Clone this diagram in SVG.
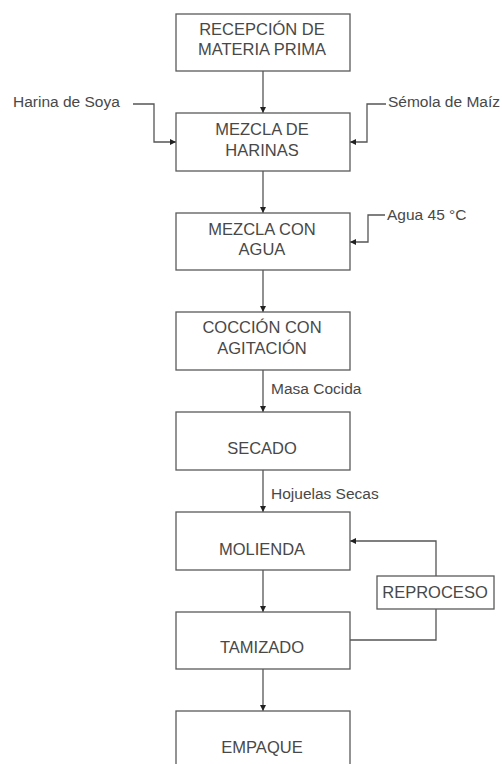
<svg xmlns="http://www.w3.org/2000/svg" width="502" height="764" viewBox="0 0 502 764">
<style>
.box{fill:#fff;stroke:#5a5a5a;stroke-width:1.3}
.bt{font-family:"Liberation Sans",Arial,sans-serif;font-size:16.5px;fill:#484848;text-anchor:middle}
.lb{font-family:"Liberation Sans",Arial,sans-serif;font-size:15.5px;fill:#484848}
.ln{fill:none;stroke:#555;stroke-width:1.3}
</style>
<defs>
<marker id="ah" viewBox="0 0 8 8" refX="8" refY="4" markerWidth="6" markerHeight="6" markerUnits="userSpaceOnUse" orient="auto">
<path d="M0,0 L8,4 L0,8 Z" fill="#222"/>
</marker>
</defs>
<rect width="502" height="764" fill="#fff"/>
<g id="connectors">
<path class="ln" d="M263,71 V113" marker-end="url(#ah)"/>
<path class="ln" d="M263,171 V213" marker-end="url(#ah)"/>
<path class="ln" d="M263,270 V312" marker-end="url(#ah)"/>
<path class="ln" d="M263,370 V412" marker-end="url(#ah)"/>
<path class="ln" d="M263,470 V512" marker-end="url(#ah)"/>
<path class="ln" d="M263,570 V612" marker-end="url(#ah)"/>
<path class="ln" d="M263,669 V711" marker-end="url(#ah)"/>
<path class="ln" d="M133,104 H154 V142 H176" marker-end="url(#ah)"/>
<path class="ln" d="M386,104 H367 V142 H350" marker-end="url(#ah)"/>
<path class="ln" d="M385,215 H368 V242 H350" marker-end="url(#ah)"/>
<path class="ln" d="M350,640 H436 V609"/>
<path class="ln" d="M436,576 V541 H350" marker-end="url(#ah)"/>
<text class="lb" x="271" y="394">Masa Cocida</text>
<text class="lb" x="271" y="499">Hojuelas Secas</text>
</g>
<g id="n-harina"><text class="lb" x="13" y="107">Harina de Soya</text></g>
<g id="n-semola"><text class="lb" x="388" y="107">Sémola de Maíz</text></g>
<g id="n-agua"><text class="lb" x="387" y="220">Agua 45 °C</text></g>
<g id="n1"><rect class="box" x="176" y="14" width="174" height="57"/>
<text class="bt" x="262" y="35">RECEPCIÓN DE</text><text class="bt" x="262" y="55">MATERIA PRIMA</text></g>
<g id="n2"><rect class="box" x="176" y="113" width="174" height="58"/>
<text class="bt" x="262" y="135">MEZCLA DE</text><text class="bt" x="262" y="156">HARINAS</text></g>
<g id="n3"><rect class="box" x="176" y="213" width="174" height="57"/>
<text class="bt" x="262" y="235">MEZCLA CON</text><text class="bt" x="262" y="255">AGUA</text></g>
<g id="n4"><rect class="box" x="176" y="312" width="174" height="58"/>
<text class="bt" x="262" y="333">COCCIÓN CON</text><text class="bt" x="262" y="354">AGITACIÓN</text></g>
<g id="n5"><rect class="box" x="176" y="412" width="174" height="58"/>
<text class="bt" x="262" y="454">SECADO</text></g>
<g id="n6"><rect class="box" x="176" y="512" width="174" height="58"/>
<text class="bt" x="262" y="555">MOLIENDA</text></g>
<g id="n7"><rect class="box" x="176" y="612" width="174" height="57"/>
<text class="bt" x="262" y="653">TAMIZADO</text></g>
<g id="n8"><rect class="box" x="176" y="711" width="174" height="60"/>
<text class="bt" x="262" y="753">EMPAQUE</text></g>
<g id="n-reproceso"><rect class="box" x="377" y="576" width="117" height="33"/>
<text class="bt" x="435" y="598">REPROCESO</text></g>
</svg>
